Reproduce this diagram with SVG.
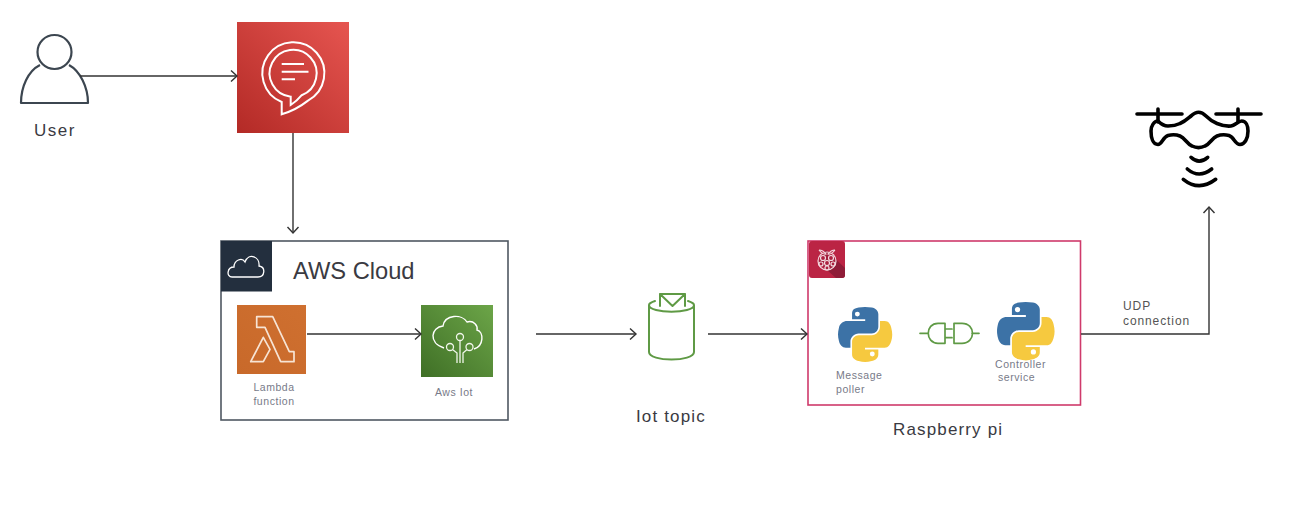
<svg xmlns="http://www.w3.org/2000/svg" width="1304" height="506" viewBox="0 0 1304 506">
<style>
text{font-family:"Liberation Sans",Arial,sans-serif;fill:#3a3a42}
.big{font-size:17px;letter-spacing:1.15px}
.small{font-size:10.5px;fill:#777a88;letter-spacing:.55px}
.udp{font-size:12px;fill:#555;letter-spacing:.9px}
.conn{fill:none;stroke:#333;stroke-width:1.4}
.wl{fill:none;stroke:#fff;stroke-width:2;stroke-linejoin:miter}
.lam{fill:none;stroke:#f7e4d4;stroke-width:1.7;stroke-linejoin:round}
.gr{fill:none;stroke:#5f9a45;stroke-width:2;stroke-linejoin:round;stroke-linecap:round}
.usr{fill:none;stroke:#3c4650;stroke-width:2.2;stroke-linejoin:round}
.drone{fill:none;stroke:#000;stroke-width:3.6;stroke-linecap:round;stroke-linejoin:round}
</style>
<defs>
<linearGradient id="gRed" x1="0" y1="1" x2="1" y2="0"><stop offset="0" stop-color="#b32a26"/><stop offset="1" stop-color="#e65550"/></linearGradient>
<linearGradient id="gOrange" x1="0" y1="1" x2="1" y2="0"><stop offset="0" stop-color="#c8692a"/><stop offset="1" stop-color="#cf7030"/></linearGradient>
<linearGradient id="gGreen" x1="0" y1="1" x2="1" y2="0"><stop offset="0" stop-color="#3f6f26"/><stop offset="1" stop-color="#6ca548"/></linearGradient>
<marker id="arr" markerUnits="userSpaceOnUse" markerWidth="12" markerHeight="14" refX="9" refY="7" orient="auto"><path d="M3,1.5 L9,7 L3,12.5" fill="none" stroke="#333" stroke-width="1.4"/></marker>
<g id="py">
<path fill="#3c72a6" d="M54.92 0c-4.58.02-8.96.41-12.81 1.09-11.34 2-13.4 6.2-13.4 13.93v10.2h26.8v3.4H18.66c-7.79 0-14.61 4.68-16.74 13.59-2.46 10.21-2.57 16.59 0 27.25 1.9 7.94 6.46 13.59 14.25 13.59h9.21V70.8c0-8.85 7.66-16.66 16.76-16.66h26.77c7.45 0 13.4-6.14 13.4-13.63V15.02c0-7.27-6.13-12.73-13.4-13.93C64.3.32 59.5-.02 54.92 0z"/>
<circle cx="39.5" cy="14.5" r="5" fill="#fff"/>
<path fill="#f6c93f" d="M85.64 28.62v11.91c0 9.23-7.83 17-16.76 17H42.11c-7.34 0-13.4 6.28-13.4 13.63v25.53c0 7.27 6.32 11.54 13.4 13.63 8.49 2.5 16.62 2.95 26.77 0 6.75-1.95 13.4-5.89 13.4-13.63V86.5H55.11v-3.41h40.17c7.79 0 10.69-5.43 13.4-13.59 2.8-8.4 2.68-16.48 0-27.25-1.93-7.76-5.6-13.59-13.4-13.59z"/>
<circle cx="70" cy="96" r="5" fill="#fff"/>
</g>
</defs>

<g id="user">
<circle class="usr" cx="54.5" cy="52" r="17"/>
<path class="usr" d="M40,65 C28,71 21,87 21,103 H88 C88,87 80,71 69,65"/>
<text class="big" x="34" y="136" style="letter-spacing:1.5px">User</text>
</g>

<g id="lex">
<rect x="237" y="22" width="112" height="111" fill="url(#gRed)"/>
<path class="wl" d="M281.700,114.300 V102 A31,31 0 1 1 308,100.600 Q296,110 281.700,114.300 Z"/>
<path class="wl" d="M290.700,105 V96.700 A23.500,23.500 0 1 1 301.700,95.200 Q297,101 290.700,105 Z"/>
<path class="wl" d="M281.700,64 H304 M281.700,71.700 H308.500 M281.700,79.300 H295"/>
</g>

<g id="aws-cloud">
<rect x="221" y="241" width="287" height="179" fill="#fff" stroke="#4f5862" stroke-width="1.6"/>
<rect x="221" y="241" width="51" height="50.500" fill="#232f3e"/>
<path d="M232,277 C226,277 227,267 234,267 C234,260 242,257 245,262 C249,252 260,257 259,266 C266,267 265,277 258,277 Z" fill="none" stroke="#fff" stroke-width="1.3"/>
<text x="293" y="279" font-size="23.700" fill="#2e3038">AWS Cloud</text>
</g>

<g id="lambda">
<rect x="237" y="305" width="69" height="69" fill="url(#gOrange)"/>
<path class="lam" d="M256.700,316.700 H272.700 L289.300,351.700 H294 V361.700 H280.700 L265,327.300 H256.700 Z"/>
<path class="lam" d="M250.700,361.700 L263.300,337.300 L270,349.300 L263.300,361.700 Z"/>
<text class="small" x="274" y="391" text-anchor="middle">Lambda</text>
<text class="small" x="274" y="405" text-anchor="middle">function</text>
</g>

<g id="iot">
<rect x="421" y="305" width="72" height="72" fill="url(#gGreen)"/>
<path d="M444,348 C428,343 431,327 443,326 C445,314 462,314 467,322 C474,320 478,326 477,330 C484,332 484,346 474,349" fill="none" stroke="#fff" stroke-width="1.4"/>
<g fill="none" stroke="#f0f6ea" stroke-width="1.3">
<circle cx="460" cy="337" r="3.5"/><circle cx="450" cy="347" r="3.5"/><circle cx="469.500" cy="347" r="3.5"/>
<path d="M460,340.500 V363 M457,363 V353 L452.500,349.500 M463,363 V353 L467,349.500"/>
</g>
<text class="small" x="454" y="396" text-anchor="middle">Aws Iot</text>
</g>

<g id="iot-topic">
<path class="gr" d="M649,305 V352 C649,362 694,362 694,352 V305 C694,314 649,314 649,305 M649,305 C649,303 652,302 655,301 M694,305 C694,303 691,302 688,301"/>
<path class="gr" d="M660,306 V294 H685 V306 M660,294 L672.500,306 L685,294"/>
<text class="big" x="636" y="422">Iot topic</text>
</g>

<g id="raspberry-pi">
<rect x="808" y="241" width="272.500" height="164" fill="#fff" stroke="#cf3a6b" stroke-width="1.6"/>
<rect x="809" y="241" width="36" height="37" rx="3" fill="#bb2444"/>
<path d="M826,250 L845,268 V275 Q845,278 842,278 H836 L818,262 Z" fill="#8f1c38"/>
<g fill="#bb2444" fill-opacity=".4" stroke="#f3dbe0" stroke-width="1.2">
<circle cx="827" cy="261" r="9"/><circle cx="823" cy="258" r="2.5"/><circle cx="831" cy="258" r="2.5"/><circle cx="827" cy="263" r="2.5"/><circle cx="821" cy="264" r="2"/><circle cx="833" cy="264" r="2"/><circle cx="827" cy="268" r="2"/>
<path d="M819,250 Q823,250 826,254 Q823,255 819,250 M835,250 Q831,250 828,254 Q831,255 835,250"/>
</g>
<g id="message-poller">
<use href="#py" transform="translate(838,307) scale(.49)"/>
<text class="small" x="836" y="379">Message</text>
<text class="small" x="836" y="393">poller</text>
</g>
<g id="plug">
<path class="gr" d="M920,333.300 H928 M945,323.300 H938 C925,323.300 925,343.300 938,343.300 H945 Z M945,329 H952 M945,337.700 H952 M954,323.300 H962 C976,323.300 976,343.300 962,343.300 H954 Z M972,333.300 H979" style="stroke-width:1.7"/>
</g>
<g id="controller-service">
<use href="#py" transform="translate(997,302) scale(.52)"/>
<text class="small" x="995" y="368">Controller</text>
<text class="small" x="998" y="381">service</text>
</g>
<text class="big" x="893" y="435">Raspberry pi</text>
</g>

<g id="udp-label">
<text class="udp" x="1123" y="310">UDP</text>
<text class="udp" x="1123" y="325">connection</text>
</g>

<g id="drone">
<path class="drone" d="M1137,114 H1182 M1216,114 H1261 M1158,109 V122 M1238,109 V122"/>
<path class="drone" d="M1158,121 C1161,124 1164,126 1168,126 C1173,126 1177,125 1180,123.500 C1185,121.500 1188,118.500 1191,116 C1194,113.500 1196,112.300 1198.500,112.300 C1201,112.300 1203.500,113.500 1206,116 C1209,119 1213,122 1217,123.500 C1222,125.500 1227,126.500 1231,126 C1235,125.500 1238,121 1241.700,121 C1246,121 1248,126 1248,131 C1248,138 1245,144.500 1240,144.500 C1235,144.500 1234,137 1229,135.500 C1225,134.500 1221,134.500 1217,136 C1212,138 1210,144 1205,146 C1201,148 1196,148 1192,146 C1187,144 1185,138 1180,136 C1176,134.500 1172,134.500 1168,135.500 C1163,137 1162,144.500 1158,144.500 C1153,144.500 1151,138 1151,131 C1151,126 1154,121 1158,121 Z"/>
<path class="drone" d="M1191,157.300 Q1199,165 1207.700,157.300 M1187.300,169 Q1199,179 1211.700,169 M1183.300,179.300 Q1199,192 1215.700,179.300"/>
</g>

<g id="connectors">
<path class="conn" d="M80,76 H237" marker-end="url(#arr)"/>
<path class="conn" d="M293,133 V233" marker-end="url(#arr)"/>
<path class="conn" d="M307,334 H421" marker-end="url(#arr)"/>
<path class="conn" d="M536,334 H636" marker-end="url(#arr)"/>
<path class="conn" d="M708,334 H807" marker-end="url(#arr)"/>
<path class="conn" d="M1081,334 H1209 V207" marker-end="url(#arr)"/>
</g>
</svg>
